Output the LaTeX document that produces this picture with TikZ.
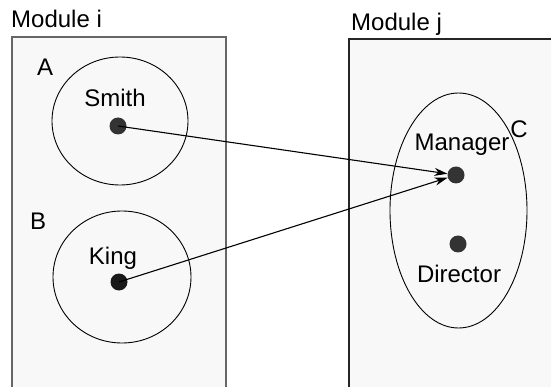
\documentclass[tikz,border=0pt]{standalone}
\usepackage{fontspec}
\setmainfont{Liberation Sans}
\usetikzlibrary{arrows.meta,shapes.geometric}
\definecolor{panel}{HTML}{F8F8F8}
\definecolor{dotc}{HTML}{333333}
\begin{document}
\begin{tikzpicture}[x=1pt,y=-1pt,
  lbl/.style={inner sep=0pt,font=\fontsize{24}{28}\selectfont},
  panelbox/.style={line width=1.2pt},
  group/.style={draw,ellipse,line width=0.9pt,inner sep=0pt},
  dot/.style={circle,fill=dotc,inner sep=0pt,minimum size=17pt},
  arr/.style={line width=1.1pt,-{Stealth[length=13pt,width=8pt,inset=4pt]}}]
\useasboundingbox (0,0) rectangle (551,387);
\fill[white] (0,0) rectangle (551,387);
% modules
\fill[panel] (12,37) rectangle (226,400);
\fill[panel] (349,39) rectangle (560,400);
\draw[panelbox,draw=black!60] (12,400) -- (12,37) -- (226,37) -- (226,400);
\draw[panelbox,draw=black!85] (349,400) -- (349,39) -- (560,39);
\node[lbl,anchor=base west] (modi) at (11,28) {Module i};
\node[lbl,anchor=base west] (modj) at (351,31) {Module j};
% groups
\node[group,minimum width=136pt,minimum height=128pt] (A) at (120,121) {};
\node[group,minimum width=138pt,minimum height=132pt] (B) at (122,277) {};
\node[group,minimum width=137pt,minimum height=235pt] (C) at (458.5,210.5) {};
\node[lbl,anchor=base west] (lA) at (37,76) {A};
\node[lbl,anchor=base west] (lB) at (30,230) {B};
\node[lbl,anchor=base] (lC) at (519,138) {C};
% members
\node[dot] (smith) at (118,126) {};
\node[dot,fill=black!90] (king) at (119,282) {};
\node[dot] (manager) at (456,175) {};
\node[dot] (director) at (458,244) {};
\node[lbl,anchor=base] (tsmith) at (115,107) {Smith};
\node[lbl,anchor=base] (tking) at (113,264) {King};
\node[lbl,anchor=base] (tmanager) at (462,151) {Manager};
\node[lbl,anchor=base] (tdirector) at (459,282) {Director};
% arrows
\draw[arr] (smith.center) -- (manager);
\draw[arr] (king.center) -- (manager);
\end{tikzpicture}
\end{document}
